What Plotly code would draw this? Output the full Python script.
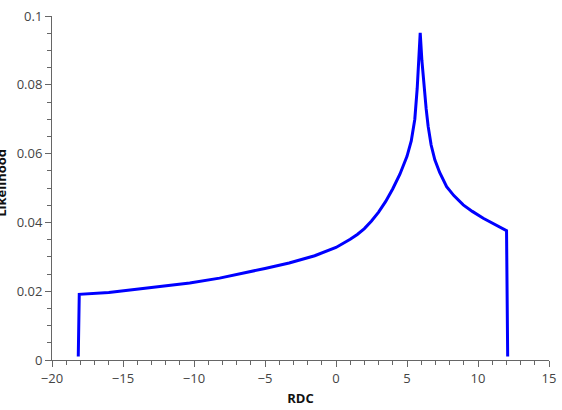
import plotly.graph_objects as go

rdc = [-18.15, -18.08, -16.0, -14.5, -12.5, -11.5, -10.3, -8.2, -6.5, -5.0,
       -3.3, -1.5, 0.0, 0.5, 1.0, 1.5, 2.0, 2.5, 3.0, 3.5, 4.0, 4.5, 5.0, 5.3, 5.55, 5.72, 5.85, 5.93,
       6.05, 6.19, 6.35, 6.49, 6.7, 6.96, 7.3, 7.79, 8.3, 8.96, 9.6, 10.37, 11.2, 12.01, 12.09]
likelihood = [0.001, 0.0191, 0.0196, 0.0203, 0.0212, 0.0217, 0.0224, 0.0238, 0.0252, 0.0266,
              0.0282, 0.0303, 0.0327, 0.0338, 0.0351, 0.0365, 0.0382, 0.0404, 0.0430, 0.0461, 0.0498, 0.0540, 0.0592,
              0.0637, 0.0700, 0.0790, 0.0870, 0.0951,
              0.0870, 0.0795, 0.0730, 0.0679, 0.0625, 0.0582, 0.0545, 0.0504, 0.0478, 0.0451, 0.0432, 0.0412, 0.0393, 0.0376, 0.001]

x_ticks = [-20, -15, -10, -5, 0, 5, 10, 15]
x_labels = ["\u221220", "\u221215", "\u221210", "\u22125", "0", "5", "10", "15"]
y_ticks = [0, 0.02, 0.04, 0.06, 0.08, 0.1]
y_labels = ["0", "0.02", "0.04", "0.06", "0.08", "0.1"]

font = "Open Sans, Noto Sans, DejaVu Sans, sans-serif"

fig = go.Figure()
fig.add_trace(go.Scatter(x=rdc, y=likelihood, mode="lines",
                         line=dict(color="#0000ff", width=3), showlegend=False,
                         cliponaxis=False))

axis_common = dict(
    showgrid=False, zeroline=False, showline=True, linecolor="#666666", linewidth=1,
    ticks="outside", ticklen=6, tickwidth=1, tickcolor="#666666",
    tickfont=dict(family=font, size=13, color="#444444"),
    automargin=False,
)

fig.update_layout(
    width=562, height=410,
    margin=dict(l=52, r=13, t=16, b=50),
    paper_bgcolor="white", plot_bgcolor="white",
    xaxis=dict(range=[-20, 15], tickvals=x_ticks, ticktext=x_labels,
               minor=dict(dtick=1, ticklen=4, tickcolor="#666666", ticks="outside"),
               title=dict(text="<b>RDC</b>", font=dict(family=font, size=13, color="#111111"), standoff=8),
               **axis_common),
    yaxis=dict(range=[0, 0.1], tickvals=y_ticks, ticktext=y_labels,
               minor=dict(dtick=0.005, ticklen=4, tickcolor="#666666", ticks="outside"),
               **axis_common),
    annotations=[dict(text="<b>Likelihood</b>", textangle=-90, xref="paper", yref="paper",
                      x=(1 - 52) / 497, y=0.515, xanchor="center", yanchor="middle",
                      showarrow=False, font=dict(family=font, size=13, color="#111111"))],
)

fig.write_html("out.html")
